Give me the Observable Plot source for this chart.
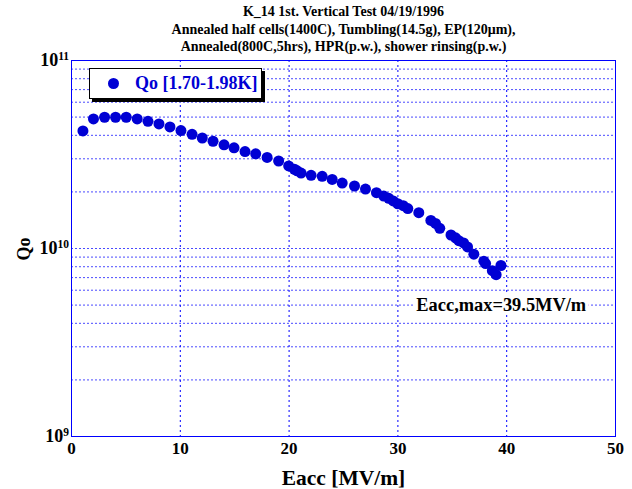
<!DOCTYPE html>
<html>
<head>
<meta charset="utf-8">
<script src="https://cdn.jsdelivr.net/npm/d3@7"></script>
<script src="https://cdn.jsdelivr.net/npm/@observablehq/plot@0.6"></script>
<style>
  body { margin: 0; background: #fff; }
  #wrap { position: relative; width: 632px; height: 489px; font-family: "Liberation Serif", "Times New Roman", serif; font-weight: bold; }
  #wrap svg { position: absolute; left: 0; top: 0; }
  .title { position: absolute; left: 71px; width: 545px; top: 3px; text-align: center; font-size: 14px; line-height: 17.5px; color: #000; }
  .xlabel { position: absolute; left: 71px; width: 545px; top: 466px; text-align: center; font-size: 21.5px; line-height: 24px; }
  .ylabel { position: absolute; left: 24px; top: 249px; font-size: 18px; transform: translate(-50%, -50%) rotate(-90deg); white-space: nowrap; }
  .legend { position: absolute; left: 89px; top: 68px; width: 171px; height: 29px; border: 1px solid #000; background: #fff; box-shadow: 3px 3px 0 #000; display: flex; align-items: center; }
  .legend .sw { width: 11px; height: 11px; border-radius: 50%; background: #0000d4; margin-left: 18px; }
  .legend .lt { margin-left: 16px; font-size: 18px; color: #0000d4; white-space: nowrap; }
</style>
</head>
<body>
<div id="wrap">
  <div class="title">K_14 1st. Vertical Test 04/19/1996<br>Annealed half cells(1400C), Tumbling(14.5g), EP(120μm),<br>Annealed(800C,5hrs), HPR(p.w.), shower rinsing(p.w.)</div>
  <div class="xlabel">Eacc [MV/m]</div>
  <div class="ylabel">Qo</div>
</div>
<script>
// Data
const eacc = [1.05, 2.02, 3.04, 4.05, 5.03, 6.04, 7.03, 8.04, 9.05, 10.06,
  11.08, 12.02, 13.01, 14.02, 14.94, 15.95, 16.93, 17.98, 19.04, 19.96,
  20.49, 20.74, 21.10, 22.02, 23.04, 23.96, 24.88, 26.01, 27.02, 28.03,
  28.70, 29.16, 29.57, 29.99, 30.49, 30.91, 31.92, 33.03, 33.46, 33.85,
  34.88, 35.30, 35.60, 36.04, 36.40, 36.98, 37.90, 38.06, 38.68, 39.03, 39.47];
const qo = [4.22e10, 4.89e10, 4.99e10, 4.99e10, 4.99e10, 4.89e10, 4.75e10, 4.60e10, 4.43e10, 4.24e10,
  4.05e10, 3.87e10, 3.72e10, 3.56e10, 3.43e10, 3.28e10, 3.19e10, 3.05e10, 2.92e10, 2.75e10,
  2.64e10, 2.59e10, 2.52e10, 2.45e10, 2.42e10, 2.33e10, 2.23e10, 2.15e10, 2.07e10, 1.98e10,
  1.90e10, 1.85e10, 1.79e10, 1.73e10, 1.69e10, 1.63e10, 1.55e10, 1.41e10, 1.36e10, 1.28e10,
  1.18e10, 1.14e10, 1.10e10, 1.07e10, 1.02e10, 9.33e9, 8.56e9, 8.31e9, 7.62e9, 7.26e9, 8.12e9];
const xTicks = [0, 10, 20, 30, 40, 50];
const xGrid = [10, 20, 30, 40];
const yTicks = [1e9, 1e10, 1e11];
const yTickBase = ["10", "10", "10"];
const yTickExp = ["9", "10", "11"];
const yGrid = [2e9, 3e9, 4e9, 5e9, 6e9, 7e9, 8e9, 9e9, 1e10,
  2e10, 3e10, 4e10, 5e10, 6e10, 7e10, 8e10, 9e10];
const annotText = ["Eacc,max=39.5MV/m"];
const annotX = [39.5];
const annotY = [5e9];

const data = eacc.map((e, i) => ({e, q: qo[i]}));
const yLab = yTicks.map((v, i) => ({v, t: yTickBase[i] + "\u2063" + yTickExp[i]}));
const annot = annotText.map((t, i) => ({t, x: annotX[i], y: annotY[i]}));

const svg = Plot.plot({
  width: 632,
  height: 489,
  marginTop: 60,
  marginLeft: 71,
  marginRight: 17,
  marginBottom: 53,
  style: {fontFamily: "Liberation Serif, Times New Roman, serif", fontWeight: "bold", background: "transparent", overflow: "visible"},
  x: {domain: [0, 50], axis: null},
  y: {type: "log", domain: [1e9, 1e11], axis: null},
  marks: [
    Plot.ruleY(yGrid, {stroke: "#2a2aff", strokeOpacity: 0.85, strokeDasharray: "2,2", strokeWidth: 1}),
    Plot.ruleX(xGrid, {stroke: "#0000ff", strokeDasharray: "2,3", strokeWidth: 1}),
    Plot.frame({stroke: "#0000ff", strokeWidth: 1}),
    Plot.dot(data, {x: "e", y: "q", r: 5.5, fill: "#0000d4"}),
    Plot.text(annot, {x: "x", y: "y", text: "t", fontSize: 18.4, fill: "#000", stroke: "#fff", strokeWidth: 7, textAnchor: "middle"}),
    Plot.text(xTicks, {x: d => d, text: d => String(d), frameAnchor: "bottom", dy: 17, fontSize: 17, fill: "#000"}),
    Plot.text(yLab, {y: "v", text: "t", frameAnchor: "left", textAnchor: "end", dx: -2.5, fontSize: 18, fill: "#000"})
  ]
});

svg.querySelectorAll('text').forEach(t => {
  if (!t.textContent.includes("\u2063")) return;
  const [b, e] = t.textContent.split("\u2063");
  t.textContent = b;
  const ts = document.createElementNS("http://www.w3.org/2000/svg", "tspan");
  ts.setAttribute("dy", "-0.55em");
  ts.setAttribute("font-size", "11.5px");
  ts.textContent = e;
  t.appendChild(ts);
});

const wrap = document.getElementById("wrap");
wrap.insertBefore(svg, wrap.firstChild);

const leg = document.createElement("div");
leg.className = "legend";
leg.innerHTML = '<span class="sw"></span><span class="lt">Qo [1.70-1.98K]</span>';
wrap.appendChild(leg);
</script>
</body>
</html>
